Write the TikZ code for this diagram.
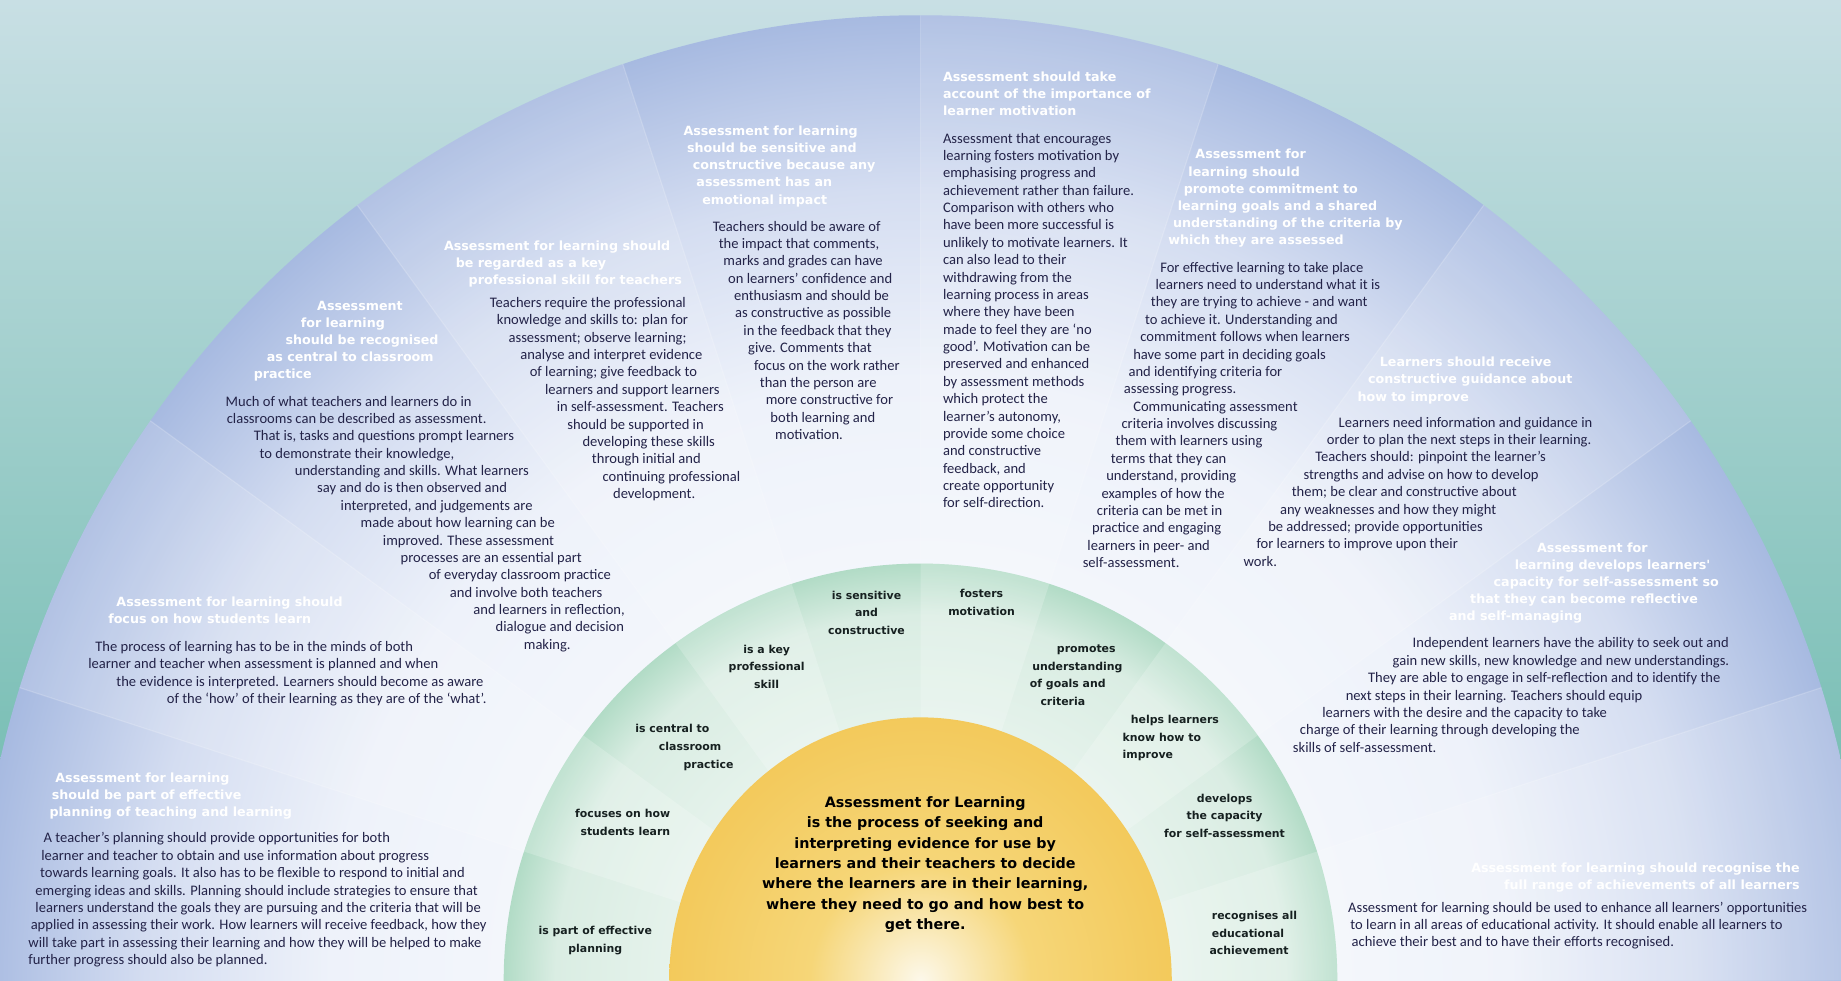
\documentclass[tikz,border=0pt]{standalone}
\usepackage{fontspec}
\setmainfont{Carlito}
\newfontfamily\headfont{DejaVu Sans}

\definecolor{bgtop}{RGB}{200,223,228}
\definecolor{bgbot}{RGB}{100,182,168}
\definecolor{fanedge}{RGB}{114,144,204}
\definecolor{fandeep}{RGB}{130,157,211}
\definecolor{fanouter}{RGB}{162,182,223}
\definecolor{fanmid}{RGB}{212,221,241}
\definecolor{fanpale}{RGB}{238,242,250}
\definecolor{ringedge}{RGB}{100,185,148}
\definecolor{ringmid}{RGB}{158,211,184}
\definecolor{ringpale}{RGB}{218,237,227}
\definecolor{sunedge}{RGB}{240,192,70}
\definecolor{sunmid}{RGB}{246,214,120}
\definecolor{sunpale}{RGB}{252,248,234}
\definecolor{ink}{RGB}{35,35,72}
\definecolor{ringink}{RGB}{22,32,32}

% stops at fraction f of the radius sit at f*35.36bp
\pgfdeclareradialshading{fanshade}{\pgfpoint{0bp}{0bp}}{color(0bp)=(white); color(15.6bp)=(fanpale); color(20.5bp)=(fanmid); color(25.5bp)=(fanouter); color(30.4bp)=(fandeep); color(35.36bp)=(fanedge); color(50bp)=(fanedge)}
\pgfdeclareradialshading{ringshade}{\pgfpoint{0bp}{0bp}}{color(0bp)=(white); color(21.9bp)=(ringpale); color(26.5bp)=(ringmid); color(35.36bp)=(ringedge); color(50bp)=(ringedge)}
\pgfdeclareradialshading{sunshade}{\pgfpoint{0bp}{0bp}}{color(0bp)=(sunpale); color(11bp)=(sunmid); color(35.36bp)=(sunedge); color(50bp)=(sunedge)}

\newcommand\idt[1]{\hspace*{#1pt}}

\begin{document}
\begin{tikzpicture}[x=1pt, y=1pt,
  headtext/.style={anchor=north west, inner sep=0pt, align=left, text=white,
    font=\headfont\bfseries\fontsize{10.8}{14.6}\selectfont},
  bodytext/.style={anchor=north west, inner sep=0pt, align=left, text=ink,
    font=\fontsize{12.4}{14.8}\selectfont},
  ringtext/.style={inner sep=0pt, text=ringink,
    font=\headfont\bfseries\fontsize{9.3}{15}\selectfont},
  coretext/.style={anchor=north, inner sep=0pt, align=center, text=black,
    font=\headfont\bfseries\fontsize{12.2}{17.4}\selectfont},
]

  \useasboundingbox (0,0) rectangle (1568,835);
  \clip (0,0) rectangle (1568,835);
  \shade[top color=bgtop, bottom color=bgbot] (0,0) rectangle (1568,835);

  % the fan, the ring and the sun
  \begin{scope}[shift={(784,0)}]
    \shade[shading=fanshade] (0,0) ellipse [x radius=805, y radius=822];
    \begin{scope}
      \clip (0,0) ellipse [x radius=805, y radius=822];
      \foreach \a in {0,36,...,144}
        \fill[white, opacity=.13] (0,0) -- (\a:1300) -- (\a+18:1300) -- cycle;
      \foreach \a in {18,36,...,162}
        \draw[white, opacity=.18, line width=1pt] (0,0) -- (\a:1300);
    \end{scope}
    \shade[shading=ringshade] (0,0) circle [radius=355];
    \begin{scope}
      \clip (0,0) circle [radius=355];
      \foreach \a in {0,36,...,144}
        \fill[white, opacity=.2] (0,0) -- (\a:500) -- (\a+18:500) -- cycle;
    \end{scope}
    \shade[shading=sunshade] (0,0) ellipse [x radius=214, y radius=224];
  \end{scope}

  % outer sectors
  \node[headtext] (planhead) at (42,177) {\idt{5}Assessment for learning\\ \idt{2}should be part of effective\\ planning of teaching and learning};
  \node[bodytext] (planbody) at (24,126) {\idt{13}A teacher's planning should provide opportunities for both\\
    \idt{11}learner and teacher to obtain and use information about progress\\
    \idt{10}towards learning goals. It also has to be flexible to respond to initial and\\
    \idt{6}emerging ideas and skills. Planning should include strategies to ensure that\\
    \idt{6}learners understand the goals they are pursuing and the criteria that will be\\
    \idt{2}applied in assessing their work. How learners will receive feedback, how they\\
    will take part in assessing their learning and how they will be helped to make\\
    further progress should also be planned.};

  \node[headtext] (focushead) at (92,327) {\idt{7}Assessment for learning should\\ focus on how students learn};
  \node[bodytext] (focusbody) at (75,289) {\idt{6}The process of learning has to be in the minds of both\\
    learner and teacher when assessment is planned and when\\
    \idt{24}the evidence is interpreted. Learners should become as aware\\
    \idt{67}of the `how' of their learning as they are of the `what'.};

  \node[headtext] (centralhead) at (216,579) {\idt{54}Assessment\\ \idt{40}for learning\\ \idt{27}should be recognised\\ \idt{11}as central to classroom\\ practice};
  \node[bodytext] (centralbody) at (192,498) {Much of what teachers and learners do in\\
    \idt{1}classrooms can be described as assessment.\\
    \idt{24}That is, tasks and questions prompt learners\\
    \idt{29}to demonstrate their knowledge,\\
    \idt{59}understanding and skills. What learners\\
    \idt{78}say and do is then observed and\\
    \idt{98}interpreted, and judgements are\\
    \idt{115}made about how learning can be\\
    \idt{134}improved. These assessment\\
    \idt{149}processes are an essential part\\
    \idt{173}of everyday classroom practice\\
    \idt{191}and involve both teachers\\
    \idt{211}and learners in reflection,\\
    \idt{230}dialogue and decision\\
    \idt{254}making.};

  \node[headtext] (skillhead) at (378,630) {Assessment for learning should\\ \idt{10}be regarded as a key\\ \idt{21}professional skill for teachers};
  \node[bodytext] (skillbody) at (417,582) {Teachers require the professional\\
    \idt{6}knowledge and skills to: plan for\\
    \idt{16}assessment; observe learning;\\
    \idt{26}analyse and interpret evidence\\
    \idt{34}of learning; give feedback to\\
    \idt{47}learners and support learners\\
    \idt{57}in self-assessment. Teachers\\
    \idt{66}should be supported in\\
    \idt{79}developing these skills\\
    \idt{87}through initial and\\
    \idt{96}continuing professional\\
    \idt{105}development.};

  \node[headtext] (sensehead) at (582,728) {Assessment for learning\\ \idt{3}should be sensitive and\\ \idt{8}constructive because any\\ \idt{11}assessment has an\\ \idt{16}emotional impact};
  \node[bodytext] (sensebody) at (607,647) {Teachers should be aware of\\
    \idt{5}the impact that comments,\\
    \idt{9}marks and grades can have\\
    \idt{13}on learners' confidence and\\
    \idt{18}enthusiasm and should be\\
    \idt{19}as constructive as possible\\
    \idt{26}in the feedback that they\\
    \idt{30}give. Comments that\\
    \idt{35}focus on the work rather\\
    \idt{40}than the person are\\
    \idt{45}more constructive for\\
    \idt{49}both learning and\\
    \idt{53}motivation.};

  \node[headtext] (motivhead) at (803,774) {Assessment should take\\ account of the importance of\\ learner motivation};
  \node[bodytext] (motivbody) at (803,722) {Assessment that encourages\\ learning fosters motivation by\\ emphasising progress and\\
    achievement rather than failure.\\ Comparison with others who\\ have been more successful is\\
    unlikely to motivate learners. It\\ can also lead to their\\ withdrawing from the\\
    learning process in areas\\ where they have been\\ made to feel they are `no\\
    good'. Motivation can be\\ preserved and enhanced\\ by assessment methods\\
    which protect the\\ learner's autonomy,\\ provide some choice\\ and constructive\\
    feedback, and\\ create opportunity\\ for self-direction.};

  \node[headtext] (goalshead) at (995,708) {\idt{23}Assessment for\\ \idt{17}learning should\\ \idt{13}promote commitment to\\ \idt{8}learning goals and a shared\\ \idt{4}understanding of the criteria by\\ which they are assessed};
  \node[bodytext] (goalsbody) at (922,612) {\idt{66}For effective learning to take place\\
    \idt{62}learners need to understand what it is\\
    \idt{58}they are trying to achieve - and want\\
    \idt{53}to achieve it. Understanding and\\
    \idt{49}commitment follows when learners\\
    \idt{43}have some part in deciding goals\\
    \idt{39}and identifying criteria for\\
    \idt{35}assessing progress.\\
    \idt{43}Communicating assessment\\
    \idt{33}criteria involves discussing\\
    \idt{28}them with learners using\\
    \idt{24}terms that they can\\
    \idt{20}understand, providing\\
    \idt{16}examples of how the\\
    \idt{12}criteria can be met in\\
    \idt{8}practice and engaging\\
    \idt{4}learners in peer- and\\
    self-assessment.};

  \node[headtext] (guidehead) at (1156,531) {\idt{19}Learners should receive\\ \idt{9}constructive guidance about\\ how to improve};
  \node[bodytext] (guidebody) at (1059,480) {\idt{81}Learners need information and guidance in\\
    \idt{71}order to plan the next steps in their learning.\\
    \idt{61}Teachers should: pinpoint the learner's\\
    \idt{51}strengths and advise on how to develop\\
    \idt{41}them; be clear and constructive about\\
    \idt{31}any weaknesses and how they might\\
    \idt{21}be addressed; provide opportunities\\
    \idt{11}for learners to improve upon their\\
    work.};

  \node[headtext] (selfhead) at (1234,373) {\idt{75}Assessment for\\ \idt{56}learning develops learners'\\ \idt{38}capacity for self-assessment so\\ \idt{18}that they can become reflective\\ and self-managing};
  \node[bodytext] (selfbody) at (1101,292) {\idt{102}Independent learners have the ability to seek out and\\
    \idt{85}gain new skills, new knowledge and new understandings.\\
    \idt{64}They are able to engage in self-reflection and to identify the\\
    \idt{45}next steps in their learning. Teachers should equip\\
    \idt{25}learners with the desire and the capacity to take\\
    \idt{6}charge of their learning through developing the\\
    skills of self-assessment.};

  \node[headtext, anchor=north east, align=right] (rangehead) at (1533,100) {Assessment for learning should recognise the\\ full range of achievements of all learners};
  \node[bodytext] (rangebody) at (1148,67) {Assessment for learning should be used to enhance all learners' opportunities\\
    \idt{2}to learn in all areas of educational activity. It should enable all learners to\\
    \idt{3}achieve their best and to have their efforts recognised.};

  % ring labels
  \node[ringtext, anchor=north, align=center] (rplan) at (507,46) {is part of effective\\ planning};
  \node[ringtext, anchor=north east, align=right] (rfocus) at (571,146) {focuses on how\\ students learn};
  \node[ringtext, anchor=north west, align=left] (rcentral) at (541,218) {is central to\\ \idt{20}classroom\\ \idt{41}practice};
  \node[ringtext, anchor=north, align=center] (rskill) at (653,286) {is a key\\ professional\\ skill};
  \node[ringtext, anchor=north, align=center] (rsense) at (738,332) {is sensitive\\ and\\ constructive};
  \node[ringtext, anchor=north, align=center] (rmotiv) at (836,333) {fosters\\ motivation};
  \node[ringtext, anchor=north west, align=left] (rgoals) at (877,286) {\idt{23}promotes\\ \idt{2}understanding\\ of goals and\\ \idt{9}criteria};
  \node[ringtext, anchor=north west, align=left] (rguide) at (956,226) {\idt{7}helps learners\\ know how to\\ improve};
  \node[ringtext, anchor=north, align=center] (rself) at (1043,159) {develops\\ the capacity\\ for self-assessment};
  \node[ringtext, anchor=north west, align=left] (rrange) at (1030,59) {\idt{2}recognises all\\ \idt{2}educational\\ achievement};

  % centre
  \node[coretext] (core) at (788,157) {Assessment for Learning\\ is the process of seeking and\\ interpreting evidence for use by\\ learners and their teachers to decide\\ where the learners are in their learning,\\ where they need to go and how best to\\ get there.};

\end{tikzpicture}
\end{document}
